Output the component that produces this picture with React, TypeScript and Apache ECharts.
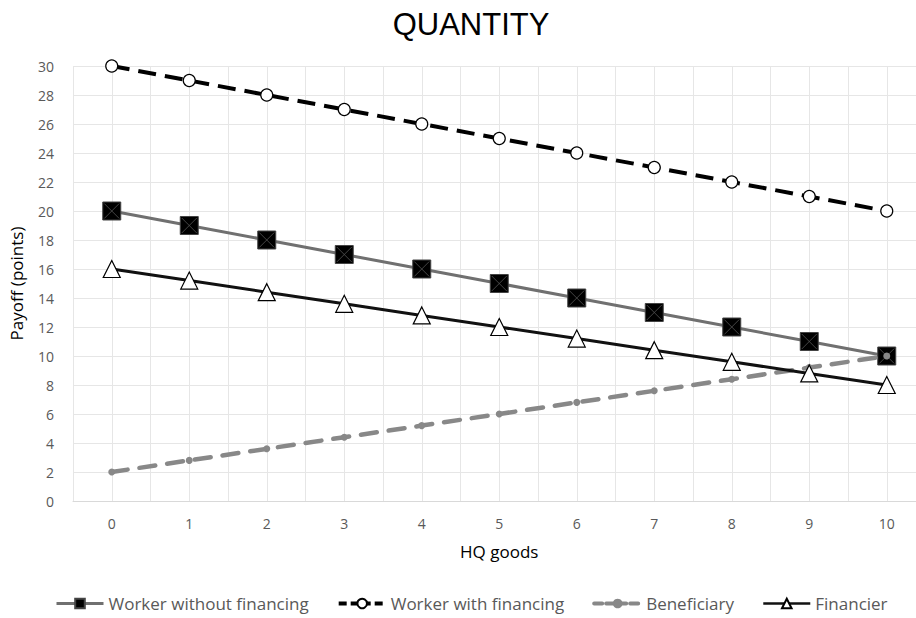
import React, { useEffect, useRef } from "react";
import * as echarts from "echarts";

const goods = [0, 1, 2, 3, 4, 5, 6, 7, 8, 9, 10];
const workerWithout = [20, 19, 18, 17, 16, 15, 14, 13, 12, 11, 10];
const workerWith = [30, 29, 28, 27, 26, 25, 24, 23, 22, 21, 20];
const beneficiary = [2, 2.8, 3.6, 4.4, 5.2, 6, 6.8, 7.6, 8.4, 9.2, 10];
const financier = [16, 15.2, 14.4, 13.6, 12.8, 12, 11.2, 10.4, 9.6, 8.8, 8];
const seriesNames = ["Worker without financing", "Worker with financing", "Beneficiary", "Financier"];

const pairs = (ys: number[]) => goods.map((g, i) => [g, ys[i]]);
const FONT = "'Open Sans', 'Liberation Sans', sans-serif";
const TEXT = "#595959";

export default function App() {
  const ref = useRef<HTMLDivElement>(null);
  useEffect(() => {
    document.body.style.margin = "0";
    const chart = echarts.init(ref.current!, null, { renderer: "svg" });
    chart.setOption({
      animation: false,
      backgroundColor: "#ffffff",
      title: {
        text: "QUANTITY",
        left: 466,
        textAlign: "center",
        top: 4,
        textStyle: { fontFamily: "'Liberation Sans Narrow', 'Liberation Sans', sans-serif", fontSize: 31, fontWeight: "normal", color: "#000" },
      },
      legend: {
        data: [
          { name: seriesNames[0], lineStyle: { width: 3, color: "#707070" } },
          { name: seriesNames[1], lineStyle: { width: 4, color: "#000", type: [8, 4] } },
          { name: seriesNames[2], lineStyle: { width: 4, color: "#888888", type: [8, 4] } },
          { name: seriesNames[3], lineStyle: { width: 2.5, color: "#111" } },
        ],
        bottom: 1,
        left: 50,
        itemWidth: 47,
        itemHeight: 12,
        itemGap: 28,
        textStyle: { fontFamily: FONT, fontSize: 17, color: TEXT },
      },
      grid: { left: 73, width: 852.5, top: 66, bottom: 117, containLabel: false },
      xAxis: {
        type: "value",
        min: -0.5,
        max: 10.5,
        interval: 0.5,
        name: "HQ goods",
        nameLocation: "middle",
        nameGap: 42,
        nameTextStyle: { fontFamily: FONT, fontSize: 17, color: "#000" },
        axisLine: { show: true, lineStyle: { color: "#d9d9d9", width: 1 } },
        axisTick: { show: false },
        axisLabel: {
          formatter: (v: number) => (Number.isInteger(v) ? String(v) : ""),
          fontFamily: FONT,
          fontSize: 14,
          color: TEXT,
          margin: 15,
          showMinLabel: true,
          showMaxLabel: true,
        },
        splitLine: { show: true, lineStyle: { color: "#e6e6e6", width: 1 } },
      },
      yAxis: {
        type: "value",
        min: 0,
        max: 30,
        interval: 2,
        name: "Payoff (points)",
        nameLocation: "middle",
        nameGap: 48,
        nameTextStyle: { fontFamily: FONT, fontSize: 17, color: "#000" },
        axisLine: { show: true, lineStyle: { color: "#e6e6e6" } },
        axisTick: { show: false },
        axisLabel: { fontFamily: FONT, fontSize: 14, color: TEXT, margin: 19 },
        splitLine: { show: true, lineStyle: { color: "#e6e6e6", width: 1 } },
      },
      series: [
        {
          name: seriesNames[0],
          type: "line",
          data: pairs(workerWithout),
          symbol: "rect",
          symbolSize: 18,
          lineStyle: { color: "#707070", width: 3 },
          itemStyle: { color: "#000", borderColor: "#444", borderWidth: 1 },
          z: 2,
        },
        {
          name: "xmark",
          type: "scatter",
          data: pairs(workerWithout),
          symbol: "path://M0,0L10,10M10,0L0,10",
          symbolSize: 15,
          silent: true,
          itemStyle: { color: "transparent", borderColor: "#555", borderWidth: 1 },
          z: 3,
        },
        {
          name: seriesNames[1],
          type: "line",
          data: pairs(workerWith),
          symbol: "circle",
          symbolSize: 12,
          showAllSymbol: true,
          lineStyle: { color: "#000", width: 4, type: [18, 9] },
          itemStyle: { color: "#fff", borderColor: "#000", borderWidth: 1.2 },
          z: 4,
        },
        {
          name: seriesNames[2],
          type: "line",
          data: pairs(beneficiary),
          symbol: "circle",
          symbolSize: 7,
          lineStyle: { color: "#888888", width: 4.5, type: [16, 12], cap: "round" },
          itemStyle: { color: "#888888", borderColor: "#888888", borderWidth: 0 },
          z: 5,
        },
        {
          name: seriesNames[3],
          type: "line",
          data: pairs(financier),
          symbol: "triangle",
          symbolSize: 17,
          lineStyle: { color: "#111", width: 3 },
          itemStyle: { color: "#fff", borderColor: "#000", borderWidth: 1.2 },
          z: 6,
        },
      ],
    });
    return () => chart.dispose();
  }, []);
  return (
    <div style={{ width: 916, height: 618, overflow: "hidden", position: "relative" }}>
      <div ref={ref} style={{ width: 940, height: 618 }} />
    </div>
  );
}
